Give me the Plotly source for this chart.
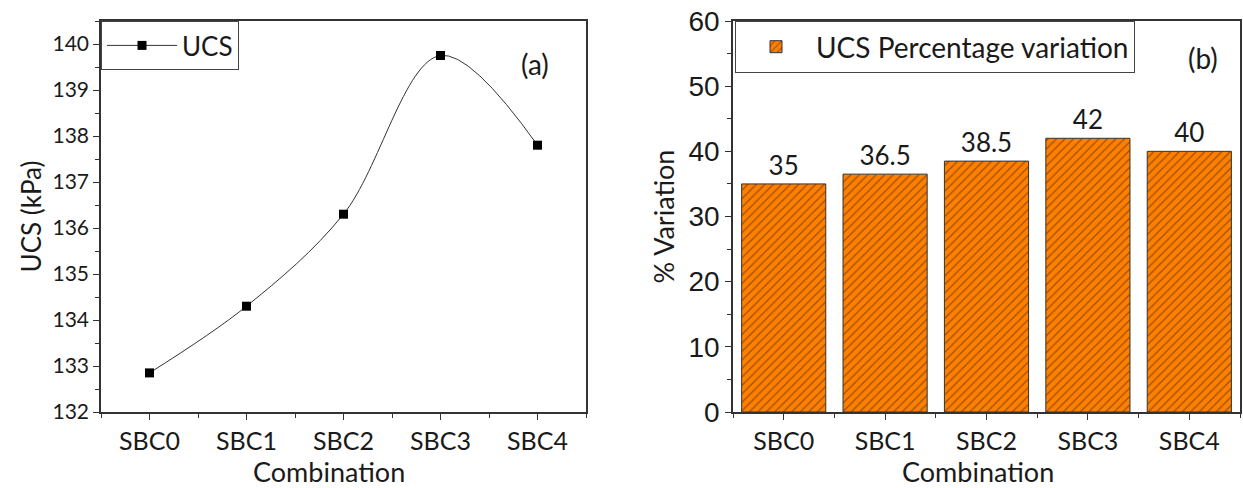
import plotly.graph_objects as go

categories = ["SBC0", "SBC1", "SBC2", "SBC3", "SBC4"]
ucs_values = [132.85, 134.3, 136.3, 139.75, 137.8]
pct_variation = [35, 36.5, 38.5, 42, 40]
pct_labels = ["35", "36.5", "38.5", "42", "40"]

xpos = list(range(len(categories)))
half_ticks = [i - 0.5 for i in range(len(categories) + 1)]

W, H = 1243, 488
FONT = "Lato"
AX = "#333333"
TXT = "#1a1a1a"

fig = go.Figure()

fig.add_trace(go.Scatter(
    x=xpos, y=ucs_values, mode="lines+markers", name="UCS",
    line=dict(color="#333333", width=1, shape="spline", smoothing=1.0),
    marker=dict(symbol="square", size=9, color="black"),
    xaxis="x", yaxis="y", legend="legend",
))

fig.add_trace(go.Bar(
    x=xpos, y=pct_variation, name="UCS Percentage variation",
    text=pct_labels, textposition="outside",
    textfont=dict(family=FONT, size=26, color=TXT),
    width=0.83,
    marker=dict(color="#FF8000", line=dict(color="#333", width=1),
                pattern=dict(shape="/", fgcolor="#3a2000", size=6, solidity=0.22)),
    xaxis="x2", yaxis="y2", legend="legend2", cliponaxis=False,
))

ydom = [1 - 412 / H, 1 - 21 / H]

common_x = dict(
    showline=True, linecolor=AX, linewidth=1.5, mirror=True, automargin=False,
    ticks="outside", ticklen=6, tickwidth=1.2, tickcolor=AX,
    tickmode="array", tickvals=xpos, ticktext=categories,
    range=[-0.5, 4.5], showgrid=False, zeroline=False,
    tickfont=dict(family=FONT, size=25, color=TXT),
    minor=dict(tickmode="array", tickvals=half_ticks, ticks="outside", ticklen=4, tickcolor=AX),
)

fig.update_layout(
    width=W, height=H, margin=dict(l=0, r=0, t=0, b=0),
    paper_bgcolor="white", plot_bgcolor="white",
    showlegend=True,
    xaxis=dict(common_x, domain=[101 / W, 586 / W], anchor="y"),
    yaxis=dict(
        domain=ydom, anchor="x", range=[132, 140.5], dtick=1, tick0=132,
        showline=True, linecolor=AX, linewidth=1.5, mirror=True, automargin=False,
        ticks="outside", ticklen=6, tickwidth=1.2, tickcolor=AX,
        showgrid=False, zeroline=False,
        tickfont=dict(family=FONT, size=21, color=TXT),
        minor=dict(dtick=0.5, tick0=132, ticks="outside", ticklen=4, tickcolor=AX),
        title=dict(text="UCS (kPa)", font=dict(family=FONT, size=26, color=TXT), standoff=3),
    ),
    xaxis2=dict(common_x, domain=[733 / W, 1240 / W], anchor="y2"),
    yaxis2=dict(
        domain=ydom, anchor="x2", range=[0, 60], dtick=10,
        showline=True, linecolor=AX, linewidth=1.5, mirror=True, automargin=False,
        ticks="outside", ticklen=6, tickwidth=1.2, tickcolor=AX,
        showgrid=False, zeroline=False,
        tickfont=dict(family="Liberation Sans", size=28, color=TXT),
        minor=dict(dtick=5, ticks="outside", ticklen=4, tickcolor=AX),
        title=dict(text="% Variation", font=dict(family=FONT, size=27, color=TXT), standoff=6),
    ),
    legend=dict(
        x=101 / W, y=ydom[1], xanchor="left", yanchor="top",
        bordercolor="#444", borderwidth=1, bgcolor="white",
        font=dict(family=FONT, size=26, color=TXT), itemwidth=70,
    ),
    legend2=dict(
        x=735 / W, y=ydom[1], xanchor="left", yanchor="top",
        bordercolor="#444", borderwidth=1, bgcolor="white",
        font=dict(family=FONT, size=28, color=TXT), itemwidth=70,
    ),
    annotations=[
        dict(text="(a)", x=535 / W, y=1 - 64 / H, xref="paper", yref="paper",
             xanchor="center", yanchor="middle",
             showarrow=False, font=dict(family=FONT, size=28, color=TXT)),
        dict(text="(b)", x=1203 / W, y=1 - 58 / H, xref="paper", yref="paper",
             xanchor="center", yanchor="middle",
             showarrow=False, font=dict(family=FONT, size=28, color=TXT)),
        dict(text="Combination", x=329 / W, y=1 - 471 / H, xref="paper", yref="paper",
             xanchor="center", yanchor="middle",
             showarrow=False, font=dict(family=FONT, size=27, color=TXT)),
        dict(text="Combination", x=978 / W, y=1 - 471 / H, xref="paper", yref="paper",
             xanchor="center", yanchor="middle",
             showarrow=False, font=dict(family=FONT, size=27, color=TXT)),
    ],
)

fig.write_html("out.html")
